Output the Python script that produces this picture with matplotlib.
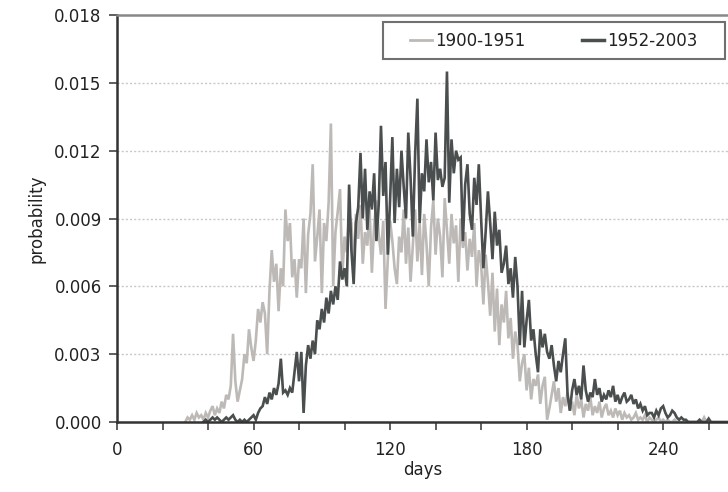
import matplotlib
matplotlib.use("Agg")
import matplotlib.pyplot as plt
from matplotlib.patches import Rectangle
from matplotlib.lines import Line2D

# ---- data ----
start_1900 = 30
prob_1900_1951 = [
    0.0000, 0.0002, 0.0001, 0.0003, 0.0001, 0.0004, 0.0002, 0.0003, 0.0001, 0.0004,
    0.0002, 0.0005, 0.0007, 0.0003, 0.0006, 0.0004, 0.0009, 0.0006, 0.0012, 0.0010,
    0.0016, 0.0039, 0.0018, 0.0009, 0.0014, 0.0019, 0.0030, 0.0026, 0.0041, 0.0033,
    0.0027, 0.0036, 0.0050, 0.0044, 0.0053, 0.0048, 0.0030, 0.0058, 0.0076, 0.0062,
    0.0070, 0.0049, 0.0068, 0.0060, 0.0094, 0.0080, 0.0088, 0.0064, 0.0072, 0.0055,
    0.0072, 0.0068, 0.0090, 0.0057, 0.0083, 0.0092, 0.0114, 0.0071, 0.0082, 0.0094,
    0.0057, 0.0088, 0.0080, 0.0097, 0.0132, 0.0060, 0.0084, 0.0093, 0.0103, 0.0065,
    0.0082, 0.0075, 0.0092, 0.0088, 0.0067, 0.0092, 0.0081, 0.0096, 0.0070, 0.0084,
    0.0078, 0.0094, 0.0066, 0.0087, 0.0098, 0.0083, 0.0074, 0.0089, 0.0050, 0.0072,
    0.0089, 0.0080, 0.0068, 0.0061, 0.0082, 0.0075, 0.0094, 0.0070, 0.0086, 0.0062,
    0.0078, 0.0094, 0.0071, 0.0088, 0.0065, 0.0092, 0.0079, 0.0060, 0.0086, 0.0098,
    0.0074, 0.0090, 0.0082, 0.0064, 0.0099, 0.0085, 0.0070, 0.0092, 0.0079, 0.0087,
    0.0062, 0.0090, 0.0077, 0.0084, 0.0067, 0.0081, 0.0073, 0.0088, 0.0060, 0.0076,
    0.0070, 0.0052, 0.0074, 0.0062, 0.0047, 0.0066, 0.0040, 0.0059, 0.0034, 0.0052,
    0.0044, 0.0058, 0.0037, 0.0046, 0.0028, 0.0040, 0.0034, 0.0018, 0.0026, 0.0030,
    0.0014, 0.0024, 0.0010, 0.0019, 0.0016, 0.0021, 0.0008, 0.0016, 0.0020, 0.0001,
    0.0006, 0.0012, 0.0018, 0.0009, 0.0015, 0.0004, 0.0011, 0.0007, 0.0013, 0.0005,
    0.0009, 0.0003, 0.0012, 0.0006, 0.0010, 0.0002, 0.0008, 0.0005, 0.0011, 0.0003,
    0.0007, 0.0004, 0.0009, 0.0002, 0.0006, 0.0008, 0.0003, 0.0005, 0.0002, 0.0006,
    0.0003, 0.0005, 0.0001, 0.0004, 0.0002, 0.0003, 0.0001, 0.0002, 0.0004, 0.0001,
    0.0002, 0.0001, 0.0003, 0.0000, 0.0002, 0.0001, 0.0000, 0.0001, 0.0002, 0.0000,
    0.0001, 0.0000, 0.0001, 0.0000, 0.0000, 0.0001, 0.0000, 0.0000, 0.0000, 0.0000,
    0.0000, 0.0000, 0.0000, 0.0000, 0.0000, 0.0000, 0.0000, 0.0000, 0.0002, 0.0000,
]

start_1952 = 38
prob_1952_2003 = [
    0.0000, 0.0001,
    0.0000, 0.0001, 0.0002, 0.0001, 0.0002, 0.0001, 0.0000, 0.0001, 0.0002, 0.0001,
    0.0002, 0.0003, 0.0001, 0.0000, 0.0001, 0.0000, 0.0001, 0.0000, 0.0001, 0.0002,
    0.0003, 0.0001, 0.0004, 0.0006, 0.0007, 0.0011, 0.0008, 0.0013, 0.0010, 0.0015,
    0.0012, 0.0017, 0.0028, 0.0013, 0.0014, 0.0012, 0.0015, 0.0013, 0.0022, 0.0031,
    0.0018, 0.0031, 0.0004, 0.0025, 0.0034, 0.0028, 0.0036, 0.0030, 0.0045, 0.0041,
    0.0050, 0.0044, 0.0055, 0.0048, 0.0058, 0.0052, 0.0060, 0.0054, 0.0071, 0.0063,
    0.0068, 0.0060, 0.0105, 0.0076, 0.0061, 0.0088, 0.0095, 0.0119, 0.0090, 0.0112,
    0.0085, 0.0102, 0.0094, 0.0110, 0.0080, 0.0096, 0.0131, 0.0100, 0.0115, 0.0074,
    0.0098, 0.0126, 0.0088, 0.0112, 0.0095, 0.0120, 0.0104, 0.0090, 0.0128, 0.0108,
    0.0082, 0.0118, 0.0143, 0.0088, 0.0110, 0.0102, 0.0125, 0.0106, 0.0115, 0.0098,
    0.0128, 0.0107, 0.0112, 0.0104, 0.0108, 0.0155, 0.0097, 0.0125, 0.0110, 0.0120,
    0.0116, 0.0117, 0.0080, 0.0105, 0.0114, 0.0092, 0.0085, 0.0108, 0.0096, 0.0114,
    0.0090, 0.0068, 0.0084, 0.0102, 0.0088, 0.0072, 0.0093, 0.0078, 0.0085, 0.0066,
    0.0070, 0.0078, 0.0061, 0.0068, 0.0055, 0.0073, 0.0060, 0.0034, 0.0058, 0.0033,
    0.0045, 0.0054, 0.0036, 0.0041, 0.0030, 0.0022, 0.0041, 0.0033, 0.0039, 0.0031,
    0.0028, 0.0034, 0.0025, 0.0018, 0.0027, 0.0022, 0.0030, 0.0037, 0.0012, 0.0005,
    0.0014, 0.0019, 0.0012, 0.0016, 0.0010, 0.0025, 0.0014, 0.0009, 0.0013, 0.0011,
    0.0019, 0.0012, 0.0015, 0.0009, 0.0012, 0.0010, 0.0014, 0.0011, 0.0016, 0.0009,
    0.0012, 0.0008, 0.0011, 0.0013, 0.0009, 0.0010, 0.0012, 0.0008, 0.0010, 0.0006,
    0.0008, 0.0005, 0.0007, 0.0003, 0.0004, 0.0004, 0.0002, 0.0005, 0.0003, 0.0006,
    0.0007, 0.0004, 0.0002, 0.0003, 0.0005, 0.0004, 0.0002, 0.0001, 0.0002, 0.0001,
    0.0001, 0.0000, 0.0000, 0.0000, 0.0000, 0.0000, 0.0001, 0.0000, 0.0000, 0.0000,
    0.00015, 0.0000, 0.0000, 0.0000, 0.0000, 0.0000, 0.0000, 0.0000, 0.0000,
]

series_labels = ["1900-1951", "1952-2003"]
x_tick_values = list(range(0, 280, 20))
x_label_values = [0, 60, 120, 180, 240]
y_tick_values = [0.000, 0.003, 0.006, 0.009, 0.012, 0.015, 0.018]

days_1900 = list(range(start_1900, start_1900 + len(prob_1900_1951)))
days_1952 = list(range(start_1952, start_1952 + len(prob_1952_2003)))

# ---- figure ----
W, H = 728, 492
plt.rcParams['font.family'] = ['DejaVu Sans']
fig = plt.figure(figsize=(W / 100, H / 100), dpi=100)
ax = fig.add_axes([117 / W, (H - 422) / H, (W - 117) / W, (422 - 15) / H])

c_light = '#bdb9b6'
c_dark = '#4a4e4e'
ax.plot(days_1900, prob_1900_1951, color=c_light, lw=1.9, solid_joinstyle='miter')
ax.plot(days_1952, prob_1952_2003, color=c_dark, lw=1.9, solid_joinstyle='miter')

ax.set_xlim(0, 268.5)
ax.set_ylim(0, 0.018)
ax.set_xticks(x_tick_values)
ax.set_xticklabels([str(v) if v in x_label_values else '' for v in x_tick_values])
ax.set_yticks(y_tick_values)
ax.set_yticklabels([f"{v:.3f}" for v in y_tick_values])

for v in y_tick_values[1:-1]:
    ax.axhline(v, color='#c8c8c8', lw=1.0, linestyle=(0, (1.5, 1.5)), zorder=0)

ax.tick_params(axis='both', direction='out', length=6, width=1.2, color='#444444',
               labelsize=12, labelcolor='#222222')
ax.tick_params(axis='y', pad=5)
ax.tick_params(axis='x', pad=8)

for s in ['left', 'bottom']:
    ax.spines[s].set_color('#333333')
    ax.spines[s].set_linewidth(1.8)
ax.spines['top'].set_color('#888888')
ax.spines['top'].set_linewidth(1.8)
ax.spines['right'].set_visible(False)

ax.set_xlabel('days', fontsize=12, color='#222222', labelpad=1)
ax.set_ylabel('probability', fontsize=12, color='#222222', labelpad=6)

# legend box
rx0, ry0, rx1, ry1 = 383, 22, 725, 59
fig.patches.append(Rectangle((rx0 / W, (H - ry1) / H), (rx1 - rx0) / W, (ry1 - ry0) / H,
                             transform=fig.transFigure, fill=True, facecolor='white',
                             edgecolor='#707070', lw=1.5, zorder=5))
handles = [Line2D([], [], color=c_light, lw=2), Line2D([], [], color=c_dark, lw=2.5)]
leg = fig.legend(handles, series_labels, loc='center',
                 bbox_to_anchor=((rx0 + rx1) / 2 / W, (H - (ry0 + ry1) / 2) / H),
                 ncol=2, frameon=False, fontsize=12, handlelength=1.3,
                 handletextpad=0.2, columnspacing=3.4, labelcolor='#222222')
leg.set_zorder(6)

fig.savefig('out.png', dpi=100)
